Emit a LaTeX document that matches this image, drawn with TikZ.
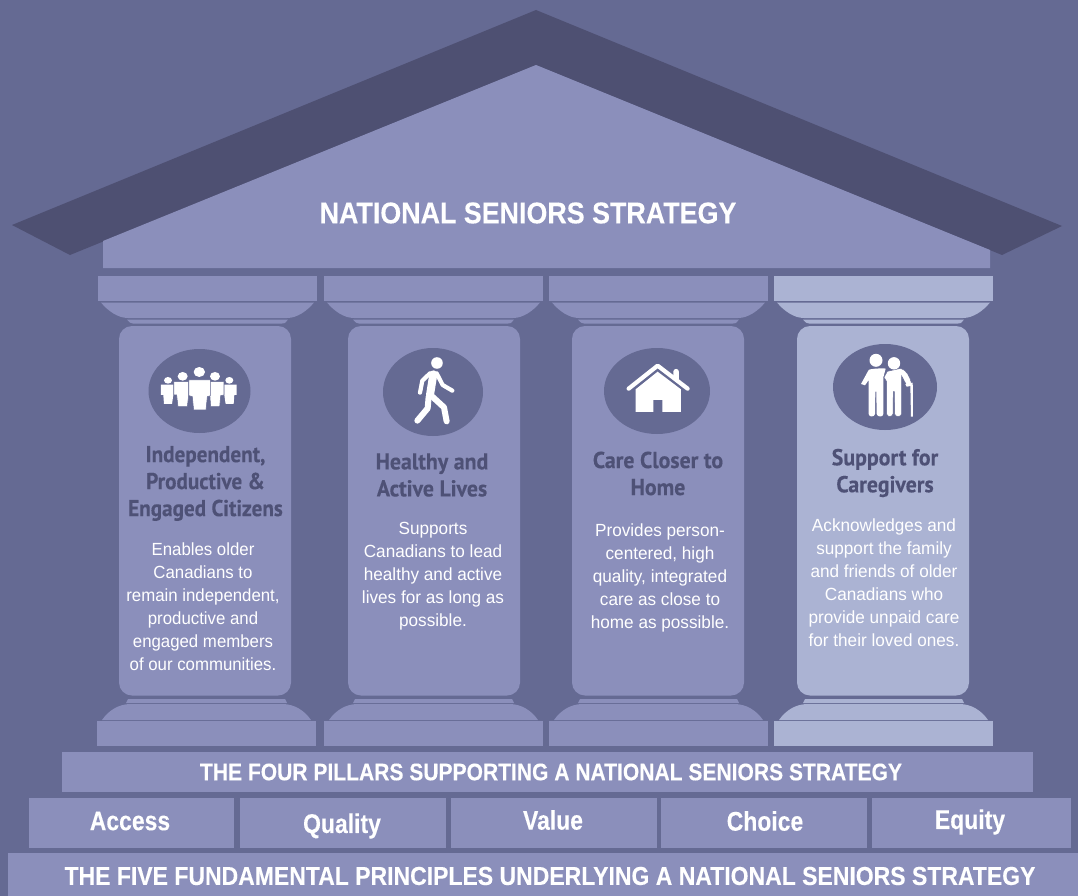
\documentclass[tikz,border=0pt]{standalone}
\usepackage{fontspec}
\setmainfont{Liberation Sans}
\newfontfamily\headfont[FakeStretch=0.95,FakeBold=0.25]{PT Sans Bold}
\newfontfamily\headnarrow[FakeStretch=0.92,FakeBold=0.25]{PT Sans Bold}
\newfontfamily\bodyfont[FakeStretch=0.975]{Liberation Sans}
\newfontfamily\bodynarrow[FakeStretch=0.955]{Liberation Sans}
\newfontfamily\titlefont[FakeStretch=0.895,FakeBold=0.15]{Liberation Sans Bold}
\newfontfamily\capfont[FakeStretch=0.877,FakeBold=0.15]{Liberation Sans Bold}
\newfontfamily\fivefont[FakeStretch=0.884,FakeBold=0.15]{Liberation Sans Bold}
\newfontfamily\wordfont[FakeStretch=0.85,FakeBold=0.15]{Liberation Sans Bold}
\definecolor{bg}{HTML}{656A93}
\definecolor{roofc}{HTML}{4E5072}
\definecolor{pil}{HTML}{8B8FBB}
\definecolor{pilb}{HTML}{ABB3D3}
\definecolor{headc}{HTML}{4E5176}
\tikzset{
 barbox/.style={fill=pil,draw=none},
 titletext/.style={text=white,font=\titlefont\fontsize{30}{32}\selectfont,inner sep=0pt},
 captext/.style={text=white,font=\capfont\fontsize{24}{28}\selectfont,inner sep=0pt},
 fivetext/.style={text=white,font=\fivefont\fontsize{26}{28}\selectfont,inner sep=0pt},
 wordtext/.style={text=white,font=\wordfont\fontsize{27}{30}\selectfont,inner sep=0pt},
 bodytext/.style={text=white,font=\bodyfont\fontsize{17.6}{23}\selectfont,align=center,inner sep=0pt},
 bodytextn/.style={bodytext,font=\bodynarrow\fontsize{17.6}{23}\selectfont},
 headtext/.style={text=headc,font=\headfont\fontsize{23}{27}\selectfont,align=center,inner sep=0pt},
 headtextn/.style={headtext,font=\headnarrow\fontsize{23}{27}\selectfont},
 iconoval/.style={fill=bg,draw=none},
 icon/.style={fill=white,draw=none},
 iconsep/.style={fill=white,draw=bg,line width=0.5pt},
 iconline/.style={draw=white,line cap=round,line join=round,fill=none},
}
% pillar: #1 capital left x, #2 shaft left x, #3 colour, #4 base left x
\newcommand{\pillar}[4]{%
 \begin{scope}[shift={(#1,0)}]
  \fill[#3] (0,276) rectangle (219,301);
  \fill[#3] (3,302.5) .. controls (10,311) and (20,318) .. (30,318) -- (189,318) .. controls (199,318) and (209,311) .. (216,302.5) -- cycle;
  \fill[#3] (29,319.5) -- (190,319.5) -- (187,323) .. controls (186,323.5) and (185,323.5) .. (184,323.5) -- (35,323.5) .. controls (33,323.5) and (32,323) .. (29,319.5) -- cycle;
 \end{scope}
 \begin{scope}[shift={(#4,0)}]
  \fill[#3] (0,721) rectangle (219,746);
  \fill[#3] (5,720) .. controls (12,710) and (22,704) .. (34,704) -- (185,704) .. controls (197,704) and (207,710) .. (214,720) -- cycle;
  \fill[#3] (29,703) -- (31,699) -- (188,699) -- (190,703) -- cycle;
 \end{scope}
 \fill[#3,rounded corners=13pt] (#2,326) rectangle ++(172,369.5);
}
\begin{document}
\begin{tikzpicture}[x=1pt,y=-1pt]
\useasboundingbox (0,0) rectangle (1078,896);
\fill[bg] (0,0) rectangle (1078,896);
% roof
\fill[roofc] (536,10) -- (1062,226) -- (1002,255) -- (536,65) -- (70,255) -- (12,225) -- cycle;
\fill[pil] (536,65) -- (990,250) -- (990,268) -- (103,268) -- (103,241) -- cycle;
\node[titletext] (title) at (528,213) {NATIONAL SENIORS STRATEGY};
% pillars
\pillar{98}{119}{pil}{97}
\pillar{324}{348}{pil}{324}
\pillar{549}{572}{pil}{549}
\pillar{774}{797}{pilb}{774}
% ovals
\fill[iconoval] (199.5,391) ellipse [x radius=51,y radius=42];
\fill[iconoval] (433,392) ellipse [x radius=50,y radius=44];
\fill[iconoval] (657,391) ellipse [x radius=53,y radius=43];
\fill[iconoval] (885,387) ellipse [x radius=52,y radius=43];
% group icon
\begin{scope}[shift={(90,265)},x=0.3333pt,y=-0.3333pt]
 \fill[icon] (328,321) ellipse [x radius=17,y radius=15];
 \fill[icon] (278,334) ellipse [x radius=15,y radius=13];
 \fill[icon] (375,334) ellipse [x radius=15,y radius=13];
 \fill[icon] (234,346) ellipse [x radius=12,y radius=10];
 \fill[icon] (418,346) ellipse [x radius=12,y radius=10];
 \fill[icon] (213,359) -- (250,359) -- (250,390) -- (246,417) -- (222,417) -- (220,390) -- (213,390) -- cycle;
 \fill[icon] (403,359) -- (440,359) -- (440,390) -- (433,390) -- (431,417) -- (407,417) -- (403,390) -- cycle;
 \filldraw[iconsep] (252,350) -- (296,350) -- (296,390) -- (292,425) -- (264,425) -- (260,390) -- (252,390) -- cycle;
 \filldraw[iconsep] (360,350) -- (402,350) -- (402,390) -- (392,392) -- (389,425) -- (362,425) -- (360,395) -- cycle;
 \filldraw[iconsep] (297,345) -- (361,345) -- (361,392) -- (352,395) -- (348,435) -- (311,435) -- (307,395) -- (297,392) -- cycle;
\end{scope}
% walker
\begin{scope}[shift={(340,330)},x=0.3333pt,y=-0.3333pt]
 \fill[icon] (291,99) circle [radius=5.8pt];
 \draw[iconline,line width=8pt] (280,133) -- (270,195);
 \draw[iconline,line width=4.2pt] (270,130) -- (247,152) -- (240,188);
 \draw[iconline,line width=4.2pt] (290,130) -- (308,165) -- (337,182);
 \draw[iconline,line width=6pt] (266,200) -- (263,235) -- (232,272);
 \draw[iconline,line width=6pt] (275,198) -- (312,232) -- (320,274);
\end{scope}
% house
\begin{scope}[shift={(340,330)},x=0.3333pt,y=-0.3333pt]
 \fill[icon] (1000,140) -- (1000,125) arc[start angle=180,end angle=0,radius=2.8pt] -- (1017,155) -- cycle;
 \draw[iconline,line width=4.2pt] (866,176) -- (953,107) -- (1043,176);
 \fill[icon] (887,178) -- (953,125) -- (1023,178) -- (1023,246) -- (967,246) -- (967,210) -- (940,210) -- (940,246) -- (887,246) -- cycle;
\end{scope}
% elderly
\begin{scope}[shift={(770,270)},x=0.3333pt,y=-0.3333pt]
 \fill[icon] (318,271) circle [radius=6.5pt];
 \fill[icon] (296,300) .. controls (300,296) and (340,294) .. (347,296) -- (340,322) -- (340,432) .. controls (340,442) and (322,442) .. (320,432) -- (319,365) -- (316,365) -- (315,432) .. controls (313,442) and (297,442) .. (296,432) -- (296,330) -- (285,346) -- (273,342) -- cycle;
 \filldraw[iconsep] (352,304) -- (392,295) .. controls (410,300) and (420,320) .. (425,343) -- (412,350) -- (395,318) -- (395,432) .. controls (393,442) and (375,442) .. (374,432) -- (373,365) -- (370,365) -- (369,432) .. controls (367,442) and (351,442) .. (350,432) -- (350,335) -- (342,322) -- cycle;
 \fill[icon] (372,280) circle [radius=6.2pt];
 \fill[icon] (421,345) -- (429,345) -- (429,440) -- (423,440) -- cycle;
 \fill[icon] (406,343) -- (428,338) -- (428,347) -- (410,350) -- cycle;
\end{scope}
% headings
\node[headtextn] (h1) at (205.5,483.5) {Independent,\\Productive \&\\Engaged Citizens};
\node[headtext] (h2) at (432,475) {Healthy and\\Active Lives};
\node[headtext] (h3) at (658,473.5) {Care Closer to\\Home};
\node[headtext] (h4) at (885,473) {Support for\\Caregivers};
% body
\node[bodytextn] (b1) at (203,607) {Enables older\\Canadians to\\remain independent,\\productive and\\engaged members\\of our communities.};
\node[bodytext] (b2) at (433,576) {Supports\\Canadians to lead\\healthy and active\\lives for as long as\\possible.};
\node[bodytext] (b3) at (660,578) {Provides person-\\centered, high\\quality, integrated\\care as close to\\home as possible.};
\node[bodytext] (b4) at (884,583) {Acknowledges and\\support the family\\and friends of older\\Canadians who\\provide unpaid care\\for their loved ones.};
% bars
\fill[barbox] (62,752) rectangle (1033,792);
\node[captext] (four) at (551,772) {THE FOUR PILLARS SUPPORTING A NATIONAL SENIORS STRATEGY};
\fill[barbox] (29,798) rectangle (234,848);
\fill[barbox] (240,798) rectangle (446,848);
\fill[barbox] (451,798) rectangle (657,848);
\fill[barbox] (661,798) rectangle (867,848);
\fill[barbox] (872,798) rectangle (1071,848);
\node[wordtext] (a) at (130,821) {Access};
\node[wordtext] (q) at (342,826) {Quality};
\node[wordtext] (v) at (553,820) {Value};
\node[wordtext] (c) at (765,821) {Choice};
\node[wordtext] (e) at (970,822) {Equity};
\fill[barbox] (8,853) rectangle (1078,896);
\node[fivetext] (five) at (550,876) {THE FIVE FUNDAMENTAL PRINCIPLES UNDERLYING A NATIONAL SENIORS STRATEGY};
\end{tikzpicture}
\end{document}
